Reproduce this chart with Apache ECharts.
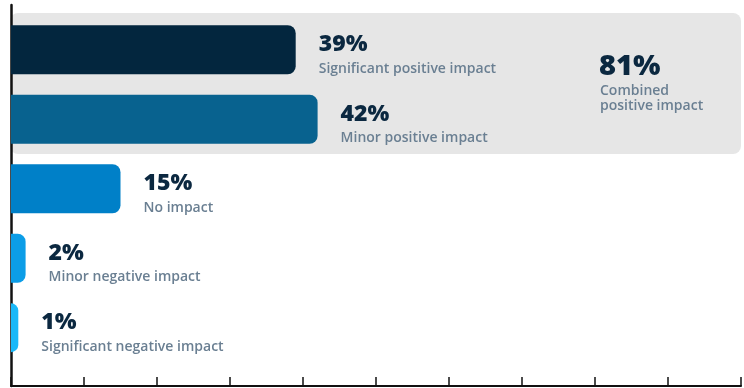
<!DOCTYPE html>
<html>
<head>
<meta charset="utf-8">
<script src="https://cdn.jsdelivr.net/npm/echarts@6/dist/echarts.min.js"></script>
<style>
  html, body { margin: 0; padding: 0; background: #ffffff; }
  #chart { width: 744px; height: 388px; }
</style>
</head>
<body>
<div id="chart"></div>
<script>
// Survey responses: share of respondents per impact level
const categories = [
  'Significant positive impact',
  'Minor positive impact',
  'No impact',
  'Minor negative impact',
  'Significant negative impact'
];
const shares = [39, 42, 15, 2, 1];
const barColors = ['#03263e', '#08628f', '#0080c8', '#0c9de7', '#1ab8f8'];
const axisTicks = [0, 10, 20, 30, 40, 50, 60, 70, 80, 90, 100];

const combined = shares[0] + shares[1];
const FONT = '"Open Sans", Inter, sans-serif';
const NAVY = '#0b2840';
const MUTED = '#6a7f92';

const chart = echarts.init(document.getElementById('chart'), null, { renderer: 'canvas' });

chart.setOption({
  animation: false,
  backgroundColor: '#ffffff',
  grid: [
    // plotting area for the bars
    { left: 11, right: 3, top: 15, bottom: 25.5 },
    // frame: left axis line and bottom tick axis
    { left: 11, right: 3, top: 5, bottom: 2 }
  ],
  xAxis: [
    { gridIndex: 0, type: 'value', min: 0, max: 100, show: false },
    {
      gridIndex: 1, type: 'value',
      min: axisTicks[0], max: axisTicks[axisTicks.length - 1],
      interval: axisTicks[1] - axisTicks[0],
      axisLine: { show: true, lineStyle: { color: '#111111', width: 2 } },
      axisTick: { show: true, inside: true, length: 9, lineStyle: { color: '#111111', width: 1.5 } },
      axisLabel: { show: false },
      splitLine: { show: false }
    }
  ],
  yAxis: [
    { gridIndex: 0, type: 'category', data: categories, inverse: true, show: false },
    {
      gridIndex: 1, type: 'value', min: 0, max: 1,
      axisLine: { show: true, lineStyle: { color: '#111111', width: 2.5 } },
      axisTick: { show: false },
      axisLabel: { show: false },
      splitLine: { show: false }
    }
  ],
  graphic: [
    {
      // panel grouping the positive responses
      type: 'rect', z: -10,
      shape: { x: 10, y: 13, width: 731, height: 141, r: 8 },
      style: { fill: '#e6e6e6' }
    },
    {
      type: 'text', z: 10, left: 599, top: 52,
      style: {
        text: combined + '%',
        font: '800 29px ' + FONT,
        fill: NAVY
      }
    },
    {
      type: 'text', z: 10, left: 600, top: 84,
      style: {
        text: 'Combined\npositive impact',
        font: '600 14px ' + FONT,
        lineHeight: 15,
        fill: MUTED
      }
    }
  ],
  series: [
    {
      type: 'bar',
      xAxisIndex: 0, yAxisIndex: 0,
      z: 3,
      barWidth: 49,
      data: shares.map((v, i) => ({
        value: v,
        itemStyle: { color: barColors[i], borderRadius: [0, 8, 8, 0] }
      })),
      label: {
        show: true,
        position: 'right',
        distance: 23,
        offset: [0, 5],
        formatter: (p) => '{v|' + p.value + '%}\n{s|' + categories[p.dataIndex] + '}',
        rich: {
          v: { fontFamily: FONT, fontWeight: 800, fontSize: 23, lineHeight: 28, color: NAVY },
          s: { fontFamily: FONT, fontWeight: 600, fontSize: 14, lineHeight: 20, color: MUTED }
        }
      }
    }
  ]
});
</script>
</body>
</html>
